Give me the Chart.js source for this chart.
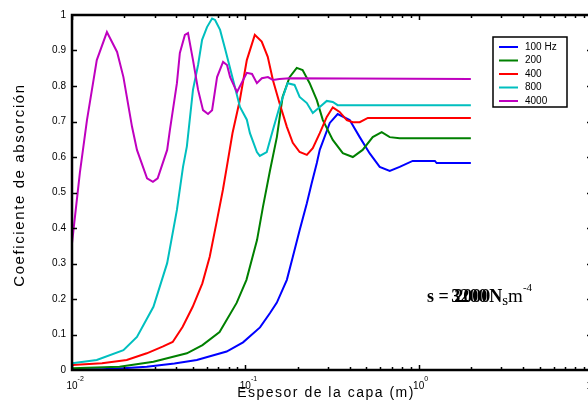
<!DOCTYPE html>
<html>
<head>
<meta charset="utf-8">
<script src="https://cdn.jsdelivr.net/npm/chart.js@4.4.0/dist/chart.umd.min.js"></script>
<style>
  html, body { margin: 0; padding: 0; background: #fff; overflow: hidden; }
  #wrap { width: 596px; height: 403px; }
</style>
</head>
<body>
<div id="wrap"><canvas id="c" width="596" height="403"></canvas></div>
<script>
// espesor de la capa (m) y coeficiente de absorción
const labels = ['100 Hz', '200', '400', '800', '4000'];
const colors = ['#0000ff', '#008000', '#ff0000', '#00bfbf', '#bf00bf'];

const x100 = [0.01, 0.0149, 0.0197, 0.027, 0.039, 0.0525, 0.078, 0.097, 0.1215, 0.1385, 0.152, 0.1736, 0.1878, 0.2057, 0.2264, 0.2414, 0.2585, 0.2688, 0.307, 0.341, 0.400, 0.457, 0.522, 0.596, 0.681, 0.777, 0.923, 1.24, 1.27, 2.0];
const y100 = [0.002, 0.002, 0.005, 0.009, 0.018, 0.028, 0.052, 0.078, 0.12, 0.16, 0.19, 0.254, 0.318, 0.394, 0.47, 0.526, 0.583, 0.62, 0.696, 0.721, 0.704, 0.656, 0.61, 0.572, 0.561, 0.572, 0.589, 0.589, 0.583, 0.583];

const x200 = [0.01, 0.0188, 0.0295, 0.046, 0.0566, 0.071, 0.0891, 0.1015, 0.1168, 0.1263, 0.1385, 0.152, 0.164, 0.180, 0.198, 0.214, 0.235, 0.2585, 0.280, 0.3195, 0.365, 0.417, 0.475, 0.543, 0.612, 0.681, 0.777, 2.0];
const y200 = [0.005, 0.009, 0.023, 0.047, 0.07, 0.107, 0.189, 0.254, 0.366, 0.459, 0.56, 0.656, 0.769, 0.825, 0.851, 0.845, 0.808, 0.76, 0.704, 0.648, 0.611, 0.6, 0.62, 0.656, 0.67, 0.656, 0.653, 0.653];

const x400 = [0.01, 0.0149, 0.0207, 0.027, 0.0333, 0.0381, 0.0435, 0.0497, 0.0565, 0.0623, 0.0685, 0.0742, 0.0782, 0.0843, 0.0929, 0.102, 0.1134, 0.1243, 0.1347, 0.1442, 0.1574, 0.1736, 0.1878, 0.2057, 0.2264, 0.245, 0.2688, 0.295, 0.3195, 0.350, 0.385, 0.417, 0.457, 0.509, 2.0];
const y400 = [0.014, 0.019, 0.028, 0.047, 0.066, 0.079, 0.122, 0.178, 0.244, 0.319, 0.42, 0.507, 0.572, 0.667, 0.76, 0.873, 0.944, 0.925, 0.882, 0.817, 0.752, 0.685, 0.64, 0.614, 0.606, 0.625, 0.667, 0.713, 0.74, 0.727, 0.704, 0.698, 0.698, 0.71, 0.71];

const x800 = [0.01, 0.0139, 0.0198, 0.0237, 0.0295, 0.0354, 0.0403, 0.0437, 0.046, 0.0499, 0.0534, 0.0563, 0.0601, 0.0643, 0.0669, 0.0715, 0.0764, 0.085, 0.0931, 0.102, 0.1063, 0.1166, 0.1212, 0.1329, 0.1442, 0.1574, 0.1754, 0.1923, 0.2057, 0.2264, 0.245, 0.2688, 0.295, 0.3195, 0.341, 2.0];
const y800 = [0.019, 0.028, 0.056, 0.093, 0.178, 0.301, 0.451, 0.572, 0.63, 0.79, 0.86, 0.93, 0.966, 0.99, 0.986, 0.958, 0.905, 0.817, 0.741, 0.705, 0.667, 0.614, 0.603, 0.614, 0.676, 0.741, 0.808, 0.803, 0.769, 0.752, 0.724, 0.741, 0.758, 0.755, 0.746, 0.746];

const x4000 = [0.01, 0.0111, 0.0122, 0.0139, 0.0159, 0.0182, 0.0198, 0.0222, 0.0237, 0.0271, 0.0293, 0.0312, 0.0354, 0.0367, 0.0403, 0.0419, 0.0448, 0.0467, 0.0499, 0.0534, 0.057, 0.0609, 0.0643, 0.0687, 0.0744, 0.0784, 0.0817, 0.0873, 0.0896, 0.0957, 0.102, 0.1093, 0.1166, 0.1245, 0.135, 0.1442, 0.1574, 0.180, 2.0];
const y4000 = [0.357, 0.555, 0.704, 0.873, 0.952, 0.896, 0.825, 0.685, 0.62, 0.54, 0.53, 0.54, 0.62, 0.676, 0.808, 0.893, 0.944, 0.949, 0.873, 0.789, 0.732, 0.721, 0.732, 0.825, 0.868, 0.859, 0.825, 0.794, 0.783, 0.811, 0.837, 0.834, 0.808, 0.822, 0.825, 0.817, 0.82, 0.822, 0.82];

const xDecades = [0.01, 0.1, 1, 10];
const xExponents = ['-2', '-1', '0', '1'];
const yTicks = [0.1, 0.2, 0.3, 0.4, 0.5, 0.6, 0.7, 0.8, 0.9];

const seriesX = [x100, x200, x400, x800, x4000];
const seriesY = [y100, y200, y400, y800, y4000];

const SANS = '"Liberation Sans", Arial, sans-serif';
const SERIF = '"Liberation Serif", "Times New Roman", serif';

const datasets = labels.map((lab, i) => ({
  label: lab,
  data: seriesX[i].map((x, j) => ({ x, y: seriesY[i][j] })),
  borderColor: colors[i],
  backgroundColor: colors[i],
  borderWidth: 2,
  pointRadius: 0,
  tension: 0,
  fill: false,
  order: labels.length - i
}));

// ejes tipo MATLAB: marco, marcas hacia dentro, etiquetas 10^n, leyenda y anotación
const matlabAxes = {
  id: 'matlabAxes',
  afterDraw(chart) {
    const ctx = chart.ctx;
    const a = chart.chartArea;
    const xs = chart.scales.x;
    const ys = chart.scales.y;
    ctx.save();
    ctx.strokeStyle = '#000';
    ctx.fillStyle = '#000';

    // marcas eje x (arriba y abajo)
    ctx.lineWidth = 1.5;
    for (let d = 0; d < 3; d++) {
      for (let k = 1; k <= 9; k++) {
        const v = xDecades[d] * k;
        const px = Math.round(xs.getPixelForValue(v)) + 0.5;
        const len = k === 1 ? 5 : 3;
        ctx.beginPath();
        ctx.moveTo(px, a.bottom); ctx.lineTo(px, a.bottom - len);
        ctx.moveTo(px, a.top); ctx.lineTo(px, a.top + len);
        ctx.stroke();
      }
    }
    // marcas eje y (izquierda y derecha)
    yTicks.forEach(v => {
      const py = Math.round(ys.getPixelForValue(v)) + 0.5;
      ctx.beginPath();
      ctx.moveTo(a.left, py); ctx.lineTo(a.left + 5, py);
      ctx.moveTo(a.right, py); ctx.lineTo(a.right - 5, py);
      ctx.stroke();
    });

    // marco
    ctx.lineWidth = 2.5;
    ctx.strokeRect(a.left, a.top, a.right - a.left, a.bottom - a.top);

    // etiquetas 10^n
    ctx.textBaseline = 'alphabetic';
    xDecades.forEach((v, i) => {
      const px = xs.getPixelForValue(v);
      ctx.font = '10px ' + SANS;
      ctx.textAlign = 'center';
      ctx.fillText('10', px, 389);
      const w = ctx.measureText('10').width;
      ctx.font = '7px ' + SANS;
      ctx.textAlign = 'left';
      ctx.fillText(xExponents[i], px + w / 2, 381);
    });

    // título eje x
    ctx.font = '14px ' + SANS;
    ctx.textAlign = 'center';
    ctx.textBaseline = 'middle';
    ctx.letterSpacing = '1.5px';
    ctx.fillText('Espesor de la capa (m)', 326, 393);

    // título eje y
    ctx.save();
    ctx.translate(20, 185);
    ctx.rotate(-Math.PI / 2);
    ctx.font = '15px ' + SANS;
    ctx.letterSpacing = '1.6px';
    ctx.fillText('Coeficiente de absorción', 0, 0);
    ctx.restore();
    ctx.letterSpacing = '0px';

    // leyenda
    const lx = 493, ly = 37, lw = 74, lh = 70;
    ctx.fillStyle = '#fff';
    ctx.fillRect(lx, ly, lw, lh);
    ctx.lineWidth = 1.5;
    ctx.strokeStyle = '#000';
    ctx.strokeRect(lx, ly, lw, lh);
    ctx.font = '10px ' + SANS;
    ctx.textAlign = 'left';
    ctx.textBaseline = 'middle';
    chart.data.datasets.forEach((ds, i) => {
      const yy = ly + 10 + i * 13.5;
      ctx.strokeStyle = ds.borderColor;
      ctx.lineWidth = 2;
      ctx.beginPath();
      ctx.moveTo(lx + 6, yy); ctx.lineTo(lx + 25, yy);
      ctx.stroke();
      ctx.fillStyle = '#000';
      ctx.fillText(ds.label, lx + 32, yy);
    });

    // anotación s = 3200 Nsm^-4
    ctx.fillStyle = '#000';
    ctx.textBaseline = 'alphabetic';
    ctx.textAlign = 'left';
    let tx = 427;
    const ty = 302;
    ctx.font = 'bold 18px ' + SERIF;
    ctx.fillText('s = ', tx, ty);
    tx += ctx.measureText('s = ').width - 2;
    ctx.fillText('3200', tx, ty);
    ctx.fillText('2000', tx + 3, ty);
    tx += ctx.measureText('3200').width + 2;
    ctx.fillText('N', tx, ty);
    tx += ctx.measureText('N').width;
    ctx.font = '15px ' + SERIF;
    ctx.fillText('s', tx, ty + 3);
    tx += ctx.measureText('s').width;
    ctx.font = '19px ' + SERIF;
    ctx.fillText('m', tx, ty);
    tx += ctx.measureText('m').width;
    ctx.font = '11px ' + SERIF;
    ctx.fillText('-4', tx, ty - 11);
    ctx.restore();
  }
};

new Chart(document.getElementById('c'), {
  type: 'line',
  data: { datasets },
  options: {
    responsive: false,
    animation: false,
    layout: { padding: { left: 0, top: 15, right: 4, bottom: 33 } },
    plugins: { legend: { display: false }, tooltip: { enabled: false } },
    scales: {
      x: {
        type: 'logarithmic',
        min: 0.01,
        max: 10,
        grid: { display: false },
        border: { display: false },
        ticks: { display: false },
        afterFit: s => { s.height = 0; }
      },
      y: {
        min: 0,
        max: 1,
        grid: { display: false, drawTicks: false },
        border: { display: false },
        ticks: {
          stepSize: 0.1,
          padding: 6,
          color: '#000',
          font: { family: SANS, size: 10 },
          callback: v => String(Number(v.toFixed(1)))
        },
        afterFit: s => { s.width = 72; }
      }
    }
  },
  plugins: [matlabAxes]
});
</script>
</body>
</html>
